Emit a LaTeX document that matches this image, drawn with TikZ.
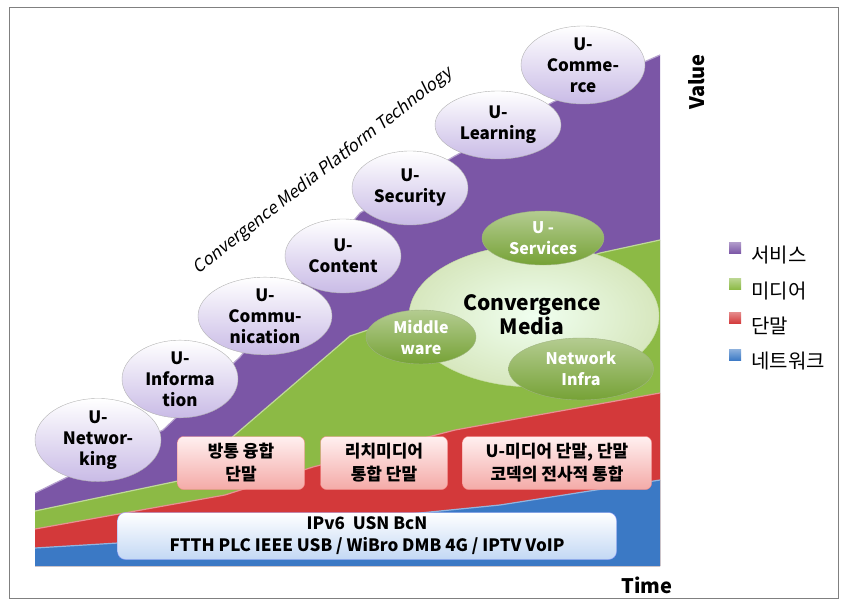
\documentclass[tikz,border=0pt]{standalone}
\usepackage{fontspec}
\setmainfont{Noto Sans CJK KR}
\newfontfamily\slfont{Noto Sans CJK KR}[FakeSlant=0.2]
\usepackage{tikz}
\usetikzlibrary{shapes.geometric}
\definecolor{svc}{HTML}{7B56A6}
\definecolor{med}{HTML}{8CBA45}
\definecolor{trm}{HTML}{D3393A}
\definecolor{net}{HTML}{3B79C5}
\definecolor{lav}{HTML}{C9BBE6}
\definecolor{olive}{HTML}{76A236}
\definecolor{pinkb}{HTML}{F4AAA7}
\definecolor{skyb}{HTML}{C3D8F4}

\begin{document}
\begin{tikzpicture}[x=1pt,y=-1pt,
	uball/.style={ellipse, draw=gray!60, inner sep=0pt, top color=white, bottom color=lav, align=center, font=\bfseries\fontsize{17}{21}\selectfont},
	gball/.style={ellipse, draw=olive!80!black!60, inner sep=0pt, top color=olive!55!white, bottom color=olive, text=white, align=center, font=\bfseries\fontsize{16}{21}\selectfont},
	tbox/.style={rounded corners=6pt, draw=pinkb!80!red, top color=red!6!white, bottom color=pinkb, align=center, minimum width=127pt, minimum height=53pt, font=\bfseries\fontsize{17}{23}\selectfont},
	legsq/.style={minimum width=12pt, minimum height=11pt, inner sep=0pt}]
	\useasboundingbox (0,0) rectangle (847,607);
	\draw[gray, line width=1pt] (9,8) rectangle (838,598);

	\fill[svc] (35,493) -- (163,430) -- (240,357) -- (300,285) -- (360,213) -- (453,157) -- (553,102) -- (660,55) -- (660,566) -- (35,566) -- cycle;
	\fill[med] (35,511) -- (178,481) -- (208,458) -- (350,336) -- (600,253) -- (660,240) -- (660,566) -- (35,566) -- cycle;
	\fill[trm] (35,529) -- (225,495) -- (313,467) -- (455,430) -- (660,393) -- (660,566) -- (35,566) -- cycle;
	\fill[net] (35,548) -- (118,543) -- (300,525) -- (500,505) -- (660,480) -- (660,566) -- (35,566) -- cycle;
	\draw[svc!55!white, line width=1.2pt] (35,493) -- (163,430) -- (240,357) -- (300,285) -- (360,213) -- (453,157) -- (553,102) -- (660,55);
	\draw[med!55!white, line width=1.2pt] (35,511) -- (178,481) -- (208,458) -- (350,336) -- (600,253) -- (660,240);
	\draw[trm!55!white, line width=1.2pt] (35,529) -- (225,495) -- (313,467) -- (455,430) -- (660,393);
	\draw[net!55!white, line width=1.2pt] (35,548) -- (118,543) -- (300,525) -- (500,505) -- (660,480);

	\node (title) at (323,171) [rotate=38, font=\slfont\fontsize{17}{17}\selectfont] {Convergence Media Platform Technology};

	\node (unet) at (98,440) [uball, minimum width=126pt, minimum height=74pt] {U-\\Networ-\\king};
	\node (uinf) at (180,379) [uball, minimum width=116pt, minimum height=76pt] {U-\\Informa\\tion};
	\node (ucom) at (265,316) [uball, minimum width=134pt, minimum height=76pt] {U-\\Commu-\\nication};
	\node (ucon) at (343,256) [uball, minimum width=116pt, minimum height=74pt] {U-\\Content};
	\node (usec) at (410,188) [uball, minimum width=116pt, minimum height=74pt] {U-\\Security};
	\node (ulrn) at (498,125) [uball, minimum width=126pt, minimum height=68pt] {U-\\Learning};
	\node (ucmr) at (583,65) [uball, minimum width=124pt, minimum height=78pt] {U-\\Comme-\\rce};

	\node (cm) at (534,316) [ellipse, draw=med!50!white, inner color=green!6!white, outer color=med!35!white, minimum width=250pt, minimum height=142pt, inner sep=0pt] {};
	\node (cmtxt) at (532,315) [align=center, font=\bfseries\fontsize{21}{24}\selectfont] {Convergence\\Media};
	\node (usvc) at (543,238) [gball, minimum width=122pt, minimum height=54pt] {U -\\Services};
	\node (mid) at (421,337) [gball, minimum width=110pt, minimum height=54pt] {Middle\\ware};
	\node (infra) at (581,369) [gball, minimum width=145pt, minimum height=62pt] {Network\\Infra};

	\node (t1) at (241,463) [tbox] {방통 융합\\단말};
	\node (t2) at (384,463) [tbox] {리치미디어\\통합 단말};
	\node (t3) at (557,463) [tbox, minimum width=189pt] {U-미디어 단말, 단말\\코덱의 전사적 통합};

	\node (ip) at (367,536) [rounded corners=8pt, draw=skyb!70!blue, top color=white, bottom color=skyb, minimum width=499pt, minimum height=47pt, align=center, font=\bfseries\fontsize{17}{22}\selectfont] {IPv6~~USN BcN\\FTTH PLC IEEE USB / WiBro DMB 4G / IPTV VoIP};

	\node (value) at (697,82) [rotate=90, font=\bfseries\fontsize{20}{20}\selectfont] {Value};
	\node (time) at (647,585) [font=\bfseries\fontsize{20}{20}\selectfont] {Time};

	\node (lsvc) at (735,248) [legsq, top color=svc!60!white, bottom color=svc] {};
	\node (lmed) at (735,284) [legsq, top color=med!60!white, bottom color=med] {};
	\node (ltrm) at (735,318) [legsq, top color=trm!60!white, bottom color=trm] {};
	\node (lnet) at (735,355) [legsq, top color=net!60!white, bottom color=net] {};
	\node (tsvc) at (748,255) [anchor=west, font=\fontsize{20}{20}\selectfont] {서비스};
	\node (tmed) at (748,291) [anchor=west, font=\fontsize{20}{20}\selectfont] {미디어};
	\node (ttrm) at (748,326) [anchor=west, font=\fontsize{20}{20}\selectfont] {단말};
	\node (tnet) at (748,361) [anchor=west, font=\fontsize{20}{20}\selectfont] {네트워크};
\end{tikzpicture}
\end{document}
